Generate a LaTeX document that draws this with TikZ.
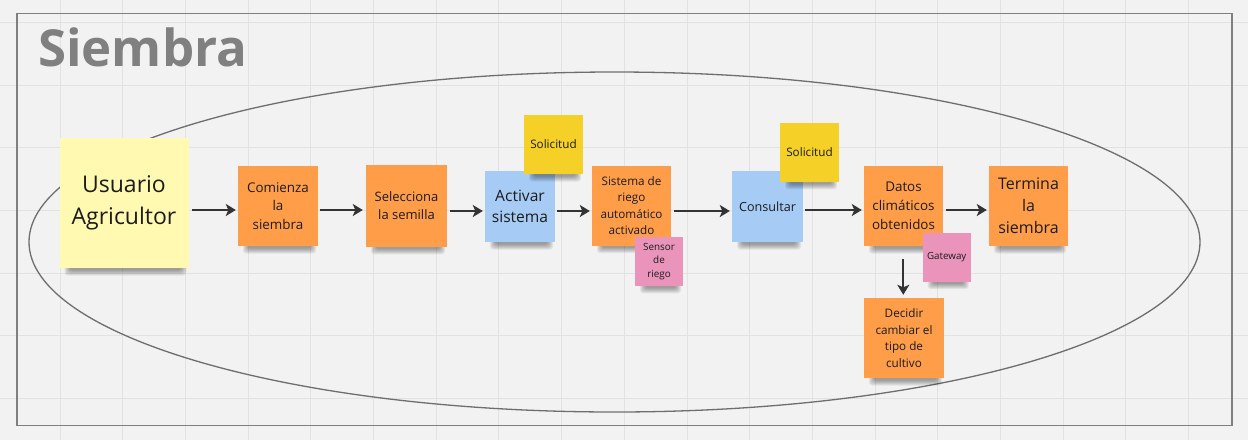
\documentclass[tikz,border=0pt]{standalone}
\usepackage{fontspec}
\setmainfont{Open Sans}
\usetikzlibrary{arrows.meta}
\definecolor{bgc}{HTML}{F2F2F2}
\definecolor{gridc}{HTML}{E2E2E2}
\definecolor{framec}{HTML}{7F7F7F}
\definecolor{ellc}{HTML}{6E6E6E}
\definecolor{titlec}{HTML}{808080}
\definecolor{ylight}{HTML}{FFF9B1}
\definecolor{ydark}{HTML}{F5D128}
\definecolor{orng}{HTML}{FF9D48}
\definecolor{blu}{HTML}{A6CCF5}
\definecolor{pnk}{HTML}{EA94BB}
\definecolor{txt}{HTML}{1C1C1C}
\definecolor{arr}{HTML}{333333}
\tikzset{
  note/.style={draw=none, inner sep=0pt, align=center, text=txt},
  shadowband/.style={fill=black, opacity=0.065, rounded corners=3pt},
  fs/.style 2 args={font=\fontsize{#1}{#2}\selectfont},
  conn/.style={draw=arr, line width=1.8pt, -{Stealth[length=10pt,width=12pt,inset=2.5pt]}},
}
% #1 name, #2 x, #3 y, #4 w, #5 h, #6 fill, #7 extra options, #8 text
\newcommand{\mysticky}[8]{%
  \foreach \kk in {0,...,5}{%
    \fill[shadowband] ({#2-#4/2+10-\kk},{#3+#5/2-3-0.4*\kk}) rectangle ({#2+#4/2-7+\kk},{#3+#5/2+2.5+\kk});
  }
  \node[note, fill=#6, minimum width=#4pt, minimum height=#5pt, #7] (#1) at (#2,#3) {#8};
}
\begin{document}
\begin{tikzpicture}[x=1pt,y=-1pt]
\useasboundingbox (0,0) rectangle (1248,440);
\fill[bgc] (0,0) rectangle (1248,440);
% grid
\foreach \i in {0,...,20} { \draw[gridc, line width=1pt] ({60+62.7*(\i-1)},0) -- ({60+62.7*(\i-1)},440); }
\foreach \j in {0,...,7} { \draw[gridc, line width=1pt] (0,{22.3+62.7*\j}) -- (1248,{22.3+62.7*\j}); }
% frame
\draw[framec, line width=1.6pt] (17,13.5) rectangle (1232,425.5);
% title
\node[anchor=base west, inner sep=0pt, text=titlec, font=\fontsize{51}{60}\selectfont\bfseries] (title) at (38,66) {Siembra};
% ellipse
\draw[ellc, line width=1.3pt] (614.5,242) ellipse [x radius=585.5, y radius=170];
% notes
\mysticky{usuario}{124}{203}{129}{130}{ylight}{fs={23}{32}}{Usuario\\Agricultor}
\mysticky{comienza}{278}{206}{80}{80}{orng}{fs={13.4}{18.5}}{Comienza\\la\\siembra}
\mysticky{selecciona}{406.5}{205.8}{81}{82}{orng}{fs={13}{17.7}}{Selecciona\\la semilla}
\mysticky{activar}{520}{206.5}{70}{71}{blu}{fs={15.6}{21}}{Activar\\sistema}
\mysticky{solA}{553.5}{144.5}{59}{59}{ydark}{fs={11.7}{16}}{Solicitud}
\mysticky{sistema}{631.5}{205.7}{79}{80}{orng}{fs={11.7}{16.4}}{Sistema de\\riego\\automático\\activado}
\mysticky{sensor}{659}{261.3}{48}{49}{pnk}{fs={9.9}{13.3}}{Sensor\\de\\riego}
\mysticky{consultar}{767.5}{206.5}{71}{71}{blu}{fs={12.6}{17}}{Consultar}
\mysticky{solB}{809.5}{152.3}{59}{59}{ydark}{fs={11.7}{16}}{Solicitud}
\mysticky{datos}{903.5}{206}{79}{80}{orng}{fs={13.4}{18.8}}{Datos\\climáticos\\obtenidos}
\mysticky{gateway}{946.7}{257.2}{48}{49}{pnk}{fs={9.8}{13}}{Gateway}
\mysticky{termina}{1028.5}{206}{79}{80}{orng}{fs={16}{22}}{Termina\\la\\siembra}
\mysticky{decidir}{904}{338}{80}{80}{orng}{fs={11.7}{16.7}}{Decidir\\cambiar el\\tipo de\\cultivo}
% connector rows
\coordinate (rowA) at (0,210);
\coordinate (rowB) at (0,211);
\coordinate (colD) at (903.3,0);
\draw[conn, shorten <=3.5pt, shorten >=2pt] (usuario.east |- rowA) -- (comienza.west |- rowA);
\draw[conn, shorten <=2pt, shorten >=3pt] (comienza.east |- rowA) -- (selecciona.west |- rowA);
\draw[conn, shorten <=3pt, shorten >=2pt] (selecciona.east |- rowB) -- (activar.west |- rowB);
\draw[conn, shorten <=2pt, shorten >=2pt] (activar.east |- rowB) -- (sistema.west |- rowB);
\draw[conn, shorten <=3pt, shorten >=2pt] (sistema.east |- rowB) -- (consultar.west |- rowB);
\draw[conn, shorten <=2pt, shorten >=2pt] (consultar.east |- rowA) -- (datos.west |- rowA);
\draw[conn, shorten <=2.5pt, shorten >=2pt] (datos.east |- rowA) -- (termina.west |- rowA);
\draw[conn, shorten <=13pt, shorten >=3pt] (colD |- datos.south) -- (colD |- decidir.north);
\end{tikzpicture}
\end{document}
